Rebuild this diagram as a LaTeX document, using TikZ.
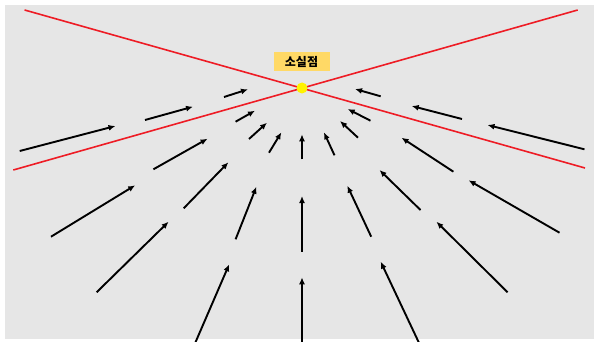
\documentclass[tikz,border=0pt]{standalone}
\usepackage{fontspec}
\newfontfamily\krfont{Noto Sans CJK KR}
\usetikzlibrary{arrows.meta}
\definecolor{bggray}{HTML}{E6E6E6}
\definecolor{redline}{HTML}{EE1C25}
\definecolor{labelbg}{HTML}{FFD966}
\definecolor{dotyellow}{HTML}{FFF200}
\tikzset{
  arr/.style={line width=1.9pt, -{Latex[length=7pt,width=6pt]}, black},
  redl/.style={line width=1.6pt, redline},
  lbl/.style={fill=labelbg, inner sep=0pt, minimum width=56pt, minimum height=19pt, font=\krfont\bfseries\fontsize{12}{14}\selectfont},
  vpdot/.style={circle, fill=dotyellow, inner sep=0pt, minimum size=11pt}
}
\begin{document}
\begin{tikzpicture}[x=1pt,y=-1pt]
\useasboundingbox (0,0) rectangle (594,342);
\fill[white] (0,0) rectangle (594,342);
\fill[bggray] (5,5) rectangle (594,339);
\begin{scope}
\clip (0,0) rectangle (594,342);
% red perspective lines
\coordinate (r1a) at (24.6,10);
\coordinate (r1b) at (585,168);
\coordinate (r2a) at (13.3,170);
\coordinate (r2b) at (577.7,10);
\draw[redl] (r1a) -- (r1b);
\draw[redl] (r2a) -- (r2b);
% arrows
\foreach \i/\xa/\ya/\xb/\yb in {
 1/19.7/151/115.5/126,
 2/145/120/193/106.7,
 3/224/97/248/89.3,
 4/235.6/121.7/255/110.7,
 5/249/139/267/122.7,
 6/269/152.7/281.4/132.3,
 7/302/159.3/302/134.3,
 8/334.5/155.3/323.9/132.3,
 9/358/137.7/340/121,
 10/370.5/120.7/347.7/109,
 11/380.7/96.3/355/89,
 12/462/119/411.7/106,
 13/584.5/149.3/487.5/125,
 14/153.4/169.3/207.6/138.7,
 15/183.7/208.3/228.4/162.3,
 16/235.6/239.3/256.4/186.7,
 17/302/251.7/302/196,
 18/371.2/236.7/347.3/185.7,
 19/420.5/210/379.5/170,
 20/453.4/171.7/401.5/137.7,
 21/51/236.7/135.2/185.3,
 22/96.6/292.3/168.6/221.7,
 23/194.3/345/229.2/264.3,
 24/302/345/302/277.3,
 25/420/345/380.7/261.7,
 26/507.6/292.3/436.4/221.7,
 27/559.5/232.7/468.6/180.3}{
  \coordinate (s\i) at (\xa,\ya);
  \coordinate (e\i) at (\xb,\yb);
  \draw[arr] (s\i) -- (e\i);
}
\end{scope}
\node[vpdot] (vp) at (302,88) {};
\node[lbl] (label) at (301.5,61.7) {소실점};
\end{tikzpicture}
\end{document}
